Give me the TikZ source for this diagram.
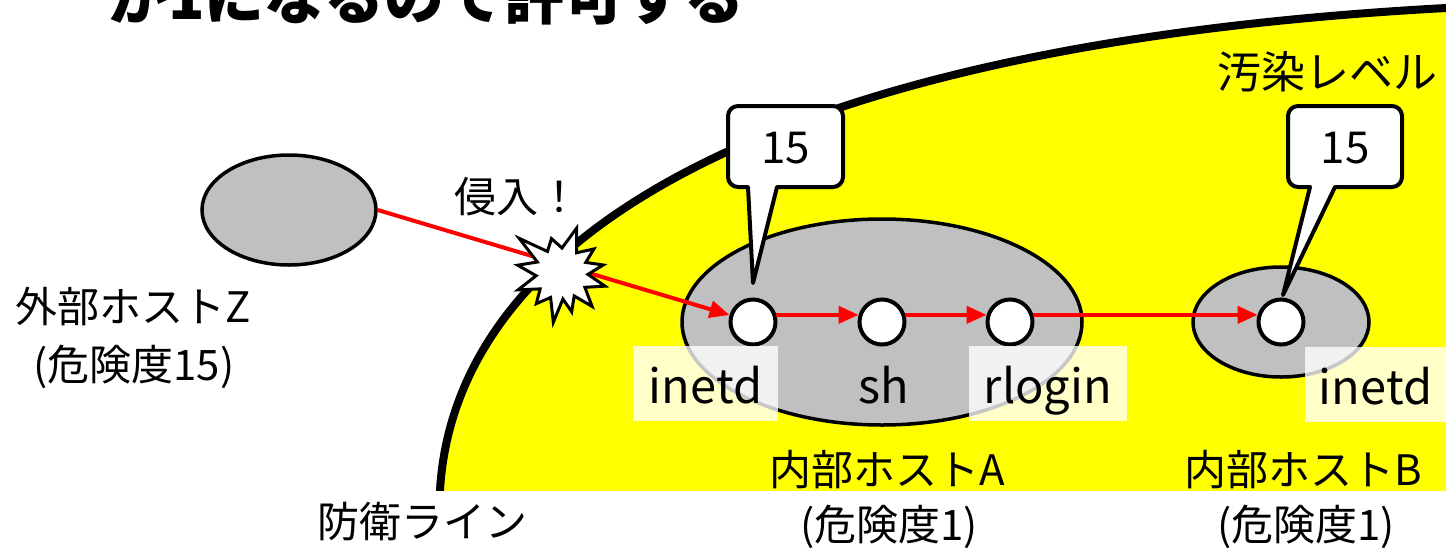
\documentclass[tikz,border=0pt]{standalone}
\usepackage{fontspec}
\setmainfont{Noto Sans CJK JP}
\usetikzlibrary{arrows.meta,shapes.geometric}
\definecolor{hostgray}{HTML}{C0C0C0}
\definecolor{zoneyellow}{HTML}{FFFF00}
\begin{document}
\begin{tikzpicture}[x=1pt,y=-1pt,
  jp/.style={font=\fontsize{42}{46}\selectfont, inner sep=0pt},
  host/.style={ellipse, draw=black, line width=3.5pt, fill=hostgray, inner sep=0pt},
  proc/.style={circle, draw=black, line width=4pt, fill=white, minimum size=45pt, inner sep=0pt},
  flow/.style={red, line width=4pt, -{Triangle[length=20pt,width=17pt]}},
  tag/.style={fill=white, fill opacity=0.78, text opacity=1, inner sep=0pt, minimum height=75pt,
    text height=39pt, text depth=0pt, font=\fontsize{47}{50}\selectfont},
  bubble/.style={draw=black, line width=4pt, fill=white, line join=round},
  num/.style={font=\fontsize{44}{46}\selectfont, inner sep=0pt},
]
\useasboundingbox (0,0) rectangle (1446,547);
% contaminated zone
\begin{scope}
  \clip (0,0) rectangle (1446,490);
  \fill[zoneyellow] (438,530) -- (440,490) .. controls (455,240) and (760,45) .. (1446,8) -- (1480,6) -- (1480,530) -- cycle;
  \draw[black, line width=8pt] (438,530) -- (440,490) .. controls (455,240) and (760,45) .. (1446,8) -- (1480,6);
\end{scope}
% title (cut off at the top edge, as in the reference)
\node[font=\fontsize{60}{62}\selectfont\bfseries, anchor=base west, inner sep=0pt] (title) at (108,19) {が1になるので許可する};
% hosts
\node[host, minimum width=174pt, minimum height=110pt] (Z) at (289,210) {};
\node[host, minimum width=400pt, minimum height=206pt] (A) at (882,322) {};
\node[host, minimum width=176pt, minimum height=110pt] (B) at (1281,322) {};
% callouts
\draw[bubble] (777,187) [rounded corners=10pt] -- (843,187) -- (843,106) -- (728,106) -- (728,187) [sharp corners] -- (748,187) -- (753,283) -- cycle;
\node[num] (cA) at (785.5,148) {15};
\draw[bubble] (1335,187) [rounded corners=10pt] -- (1402,187) -- (1402,106) -- (1288,106) -- (1288,187) [sharp corners] -- (1310,187) -- (1283,295) -- cycle;
\node[num] (cB) at (1345,148) {15};
% processes
\node[proc] (a1) at (753,322) {};
\node[proc] (a2) at (882,322) {};
\node[proc] (a3) at (1010,322) {};
\node[proc] (b1) at (1281,322) {};
% flows
\draw[flow] (Z.east) -- (a1);
\draw[flow] (a1.17) -- (a2.163);
\draw[flow] (a2.17) -- (a3.163);
\draw[flow] (a3.17) -- (b1.163);
% explosion
\filldraw[fill=white, draw=black, line width=3pt, line join=miter, shift={(562,273)}]
  plot coordinates {(-72:47) (-54:25) (-37:40) (-24:26) (-11:42) (3:26) (17:45) (32:27) (48:45) (62:26) (76:40) (88:26) (100:50) (115:27) (130:40) (144:27) (159:47) (174:26) (190:45) (204:27) (219:55) (236:26) (253:36) (270:25)} -- cycle;
% labels
\node[tag, minimum width=145pt] (la1) at (705.5,383.5) {inetd};
\node[tag, minimum width=0pt, fill=none] (la2) at (884,383.5) {sh};
\node[tag, minimum width=158pt] (la3) at (1048,383.5) {rlogin};
\node[tag, minimum width=141pt] (lb1) at (1375.5,384.5) {inetd};
\node[jp] (zname) at (133,307) {外部ホストZ};
\node[jp] (zrisk) at (134,367) {(危険度15)};
\node[jp] (aname) at (887,470) {内部ホストA};
\node[jp] (arisk) at (889,527) {(危険度1)};
\node[jp] (bname) at (1303,470) {内部ホストB};
\node[jp] (brisk) at (1306,527) {(危険度1)};
\node[jp] (defline) at (422,522) {防衛ライン};
\node[jp, font=\fontsize{44}{46}\selectfont] (level) at (1327,72) {汚染レベル};
\node[jp] (intr) at (517,197) {侵入！};
\end{tikzpicture}
\end{document}
